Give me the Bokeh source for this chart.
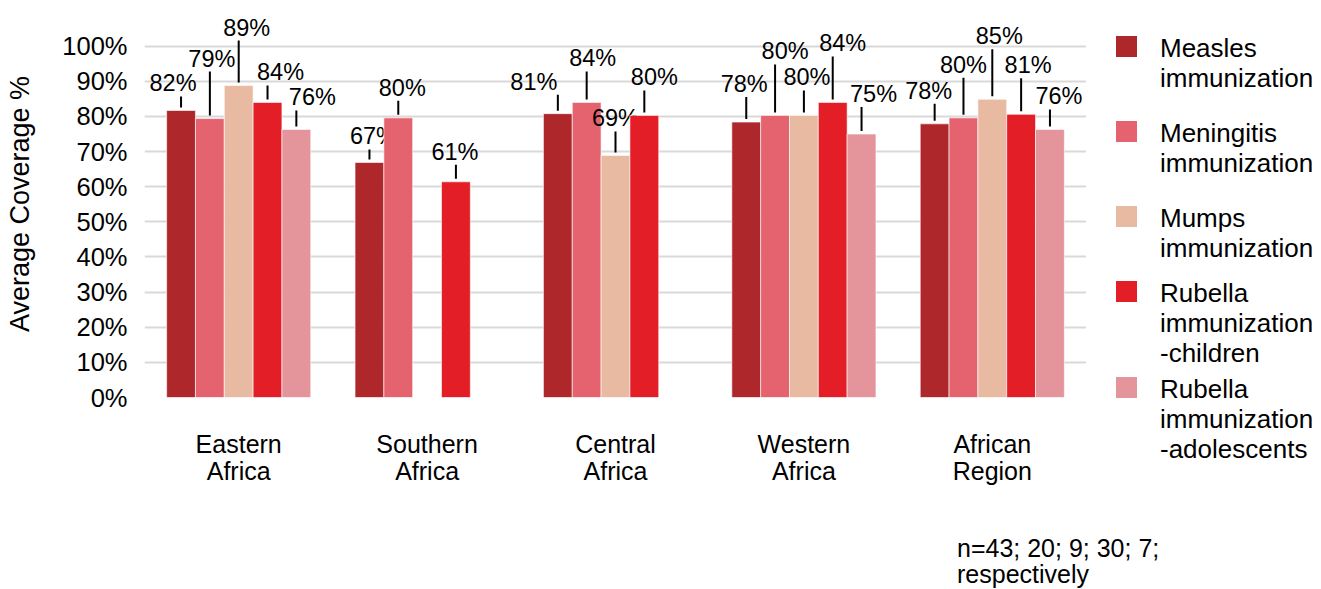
from bokeh.plotting import figure
from bokeh.models import (ColumnDataSource, FactorRange, FixedTicker, PrintfTickFormatter,
                          Range1d, Div)
from bokeh.layouts import row, column
from bokeh.transform import dodge
from bokeh.embed import file_html
from bokeh.resources import INLINE
from bokeh.core.properties import value

# ---------------- data ----------------
regions = ["Eastern\nAfrica", "Southern\nAfrica", "Central\nAfrica", "Western\nAfrica", "African\nRegion"]
series_labels = ["Measles\nimmunization", "Meningitis\nimmunization", "Mumps\nimmunization",
                 "Rubella\nimmunization\n-children", "Rubella\nimmunization\n-adolescents"]
measles = [81.7, 66.9, 80.8, 78.4, 77.9]
meningitis = [79.4, 79.6, 84.0, 80.3, 79.6]
mumps = [88.8, None, 68.9, 80.3, 84.9]
rubella_children = [84.0, 61.4, 80.3, 84.0, 80.6]
rubella_adolescents = [76.3, None, None, 75.0, 76.3]
y_ticks = [0, 10, 20, 30, 40, 50, 60, 70, 80, 90, 100]
y_title = "Average Coverage %"
footnote_lines = ["n=43; 20; 9; 30; 7;", "respectively"]

series_values = [measles, meningitis, mumps, rubella_children, rubella_adolescents]

# ---------------- style / layout ----------------
colors = ["#ae272b", "#e4636e", "#e9baa2", "#e31e26", "#e4949b"]
FONT = "Liberation Sans"
# data-label placement (pixels): lift above bar top, horizontal shift
label_lift = [[18, 17, 23, 29, 24], [51, 21, 35, 55, 44], [49, 0, 28, 29, 54],
              [21, 21, 29, 50, 40], [23, 0, 0, 31, 24]]
label_dx = [[-8, 4, -24, -2, -6], [2, 4, 6, 10, 0], [8, 0, 0, 3, 7],
            [13, -1, 10, 10, 7], [16, 0, 0, 12, 9]]
TEXT_FIX = 9
legend_tops = [36, 121, 206, 281, 377]   # px from top of the page

W, H = 1321, 589
TOP_H = 530
FL, FR, FT, FB = 144, 1086, 10, 397
PPU = (FB - 45.7) / 100.0
Y_END = (FB - FT) / PPU
BW = 0.153

p = figure(width=FR, height=TOP_H, x_range=FactorRange(*regions, range_padding=0),
           y_range=Range1d(0, Y_END), output_backend="svg", toolbar_location=None,
           min_border_left=FL, min_border_right=0, min_border_top=FT,
           min_border_bottom=TOP_H - FB)
p.outline_line_color = None
p.background_fill_color = "white"
p.border_fill_color = "white"

for s, vals in enumerate(series_values):
    off = (s - 2) * BW
    idx = [g for g in range(len(regions)) if vals[g] is not None]
    v = [vals[g] for g in idx]
    src = ColumnDataSource(dict(
        region=[regions[g] for g in idx],
        v=v,
        lab=["%d%%" % round(x) for x in v],
        dx=[label_dx[s][g] for g in idx],
        dy=[-(label_lift[s][g] + TEXT_FIX) for g in idx],
        l0=[x + 3 / PPU for x in v],
        l1=[x + (label_lift[s][g] - 4) / PPU for x, g in zip(v, idx)],
    ))
    xd = dodge("region", off, range=p.x_range)
    p.vbar(x=xd, top="v", width=BW, source=src, fill_color=colors[s],
           line_color="white", line_alpha=0.6, line_width=1)
    p.segment(x0=xd, y0="l0", x1=xd, y1="l1", source=src, line_color="black", line_width=2)
    p.text(x=xd, y="v", text="lab", x_offset="dx", y_offset="dy", source=src,
           text_align="center", text_baseline="alphabetic", text_font=value(FONT),
           text_font_size="23.5px", text_color="black")

# y axis
p.yaxis.ticker = FixedTicker(ticks=y_ticks)
p.yaxis.formatter = PrintfTickFormatter(format="%d%%")
p.yaxis.axis_line_color = None
p.yaxis.major_tick_line_color = None
p.yaxis.minor_tick_line_color = None
p.yaxis.major_tick_out = 0
p.yaxis.major_tick_in = 0
p.yaxis.major_label_standoff = 17
p.yaxis.major_label_text_font = FONT
p.yaxis.major_label_text_font_size = "25.5px"
p.yaxis.major_label_text_color = "black"
p.yaxis.axis_label = y_title
p.yaxis.axis_label_text_font = FONT
p.yaxis.axis_label_text_font_size = "27px"
p.yaxis.axis_label_text_font_style = "normal"
p.yaxis.axis_label_text_color = "black"
p.yaxis.axis_label_standoff = 24

# x axis
p.xaxis.axis_line_color = None
p.xaxis.major_tick_line_color = None
p.xaxis.minor_tick_line_color = None
p.xaxis.major_tick_out = 0
p.xaxis.major_tick_in = 0
p.xaxis.major_label_standoff = 32
p.xaxis.major_label_text_font = FONT
p.xaxis.major_label_text_font_size = "25px"
p.xaxis.major_label_text_color = "black"
p.xaxis.major_label_text_line_height = 0.97

p.xgrid.grid_line_color = None
p.ygrid.grid_line_color = "#d9d9d9"
p.ygrid.grid_line_width = 2

# ---------------- legend (HTML block to the right of the plot) ----------------
LW = W - FR
SQ_X0, SQ = 1116 - FR, 21
TXT_X = 1160 - FR
parts = []
for s, top in enumerate(legend_tops):
    parts.append('<div style="position:absolute;left:%dpx;top:%dpx;width:%dpx;height:%dpx;'
                 'background:%s;"></div>' % (SQ_X0, top, SQ, SQ, colors[s]))
    parts.append('<div style="position:absolute;left:%dpx;top:%dpx;white-space:nowrap;">%s</div>'
                 % (TXT_X, top - 3, series_labels[s].replace("\n", "<br>")))
legend_html = ('<div style="position:relative;width:%dpx;height:%dpx;font-family:\'%s\';'
               'font-size:26px;line-height:30px;color:black;">%s</div>'
               % (LW, TOP_H, FONT, "".join(parts)))
legend_div = Div(text=legend_html, width=LW, height=TOP_H, margin=(0, 0, 0, 0))

# ---------------- footnote ----------------
note = Div(text="<br>".join(footnote_lines), width=W - 957, height=H - TOP_H - 5,
           margin=(5, 0, 0, 957),
           styles={"font-family": FONT, "font-size": "25px", "line-height": "26px",
                   "color": "black", "white-space": "nowrap"})

layout = column(row(p, legend_div, spacing=0), note, spacing=0)
open("out.html", "w").write(file_html(layout, INLINE))
